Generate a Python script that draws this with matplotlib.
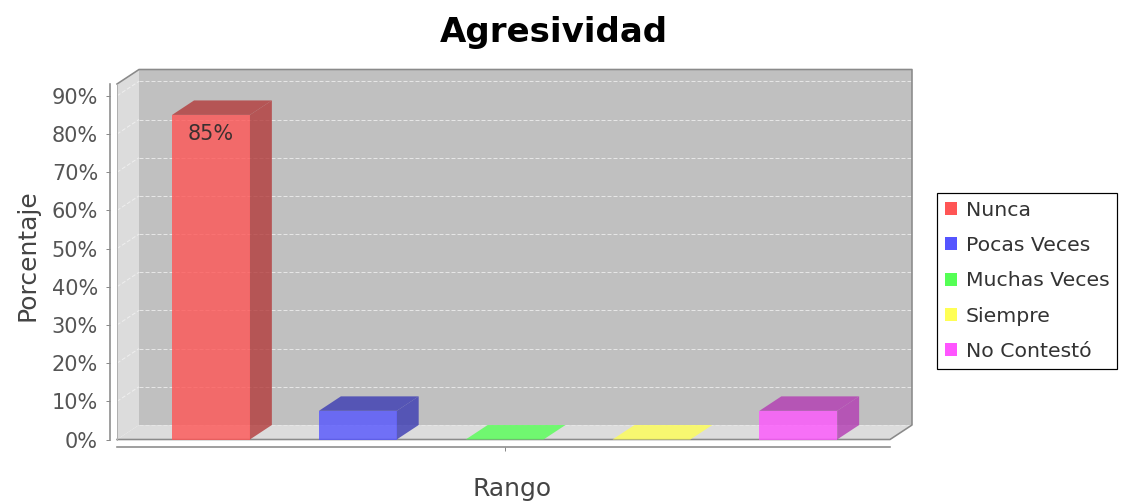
import matplotlib
matplotlib.use("Agg")
import matplotlib.pyplot as plt
from matplotlib.patches import Polygon, Patch
from matplotlib.lines import Line2D
from matplotlib.transforms import IdentityTransform
from matplotlib.colors import to_rgb

# ---------------- data ----------------
title = "Agresividad"
series_names = ["Nunca", "Pocas Veces", "Muchas Veces", "Siempre", "No Contestó"]
values = [85, 7.5, 0, 0, 7.5]
series_colors = ["#FF5555", "#5555FF", "#55FF55", "#FFFF55", "#FF55FF"]
y_ticks = [0, 10, 20, 30, 40, 50, 60, 70, 80, 90]
y_tick_labels = ["0%", "10%", "20%", "30%", "40%", "50%", "60%", "70%", "80%", "90%"]
x_label = "Rango"
y_label = "Porcentaje"
bar_labels = ["85%", "", "", "", ""]

# ---------------- layout ----------------
W, H = 1130, 504
DPI = 100
PX = 72.0 / DPI  # points per pixel

fig = plt.figure(figsize=(W / DPI, H / DPI), dpi=DPI)
fig.patch.set_facecolor("white")

front_left, front_right = 117, 890
front_bottom, front_top = 439.5, 84
ax = fig.add_axes([front_left / W, (H - front_bottom) / H,
                   (front_right - front_left) / W, (front_bottom - front_top) / H])
ax.set_facecolor("none")

n = len(values)
bar_w = 0.53
x0, x1 = -0.64, 4.625
y0, y1 = 0, 93.1
ax.set_xlim(x0, x1)
ax.set_ylim(y0, y1)

DX, DY = 22, 14.5  # 3D depth offset in pixels

def pt(x, y, depth=0.0):
    p = ax.transData.transform((x, y))
    return (p[0] + DX * depth, p[1] + DY * depth)

def poly(points, color, z, alpha=1.0, ec="none"):
    p = Polygon(points, closed=True, facecolor=color, edgecolor=ec, alpha=alpha,
                transform=IdentityTransform(), clip_on=False, zorder=z, lw=0)
    ax.add_artist(p)

def line(points, color, lw, z, dashes=None):
    xs = [p[0] for p in points]
    ys = [p[1] for p in points]
    l = Line2D(xs, ys, color=color, lw=lw, transform=IdentityTransform(),
               clip_on=False, zorder=z)
    if dashes is not None:
        l.set_dashes(dashes)
    ax.add_artist(l)

# walls
poly([pt(x0, y0, 1), pt(x1, y0, 1), pt(x1, y1, 1), pt(x0, y1, 1)], "#C0C0C0", 0.1)
poly([pt(x0, y0, 0), pt(x0, y1, 0), pt(x0, y1, 1), pt(x0, y0, 1)], "#DCDCDC", 0.1)
poly([pt(x0, y0, 0), pt(x1, y0, 0), pt(x1, y0, 1), pt(x0, y0, 1)], "#DCDCDC", 0.1)

# gridlines
for yv in y_ticks:
    line([pt(x0, yv, 1), pt(x1, yv, 1)], "#E6E6E6", 1 * PX, 0.2, dashes=(4, 2))
    if yv > 0:
        line([pt(x0, yv, 0), pt(x0, yv, 1)], "#EEEEEE", 1 * PX, 0.2, dashes=(4, 2))

# outline
line([pt(x0, y1, 0), pt(x0, y1, 1), pt(x1, y1, 1), pt(x1, y0, 1), pt(x1, y0, 0),
      pt(x0, y0, 0)], "#8A8A8A", 1.6 * PX, 0.3)
line([pt(x0, y1, 0), pt(x0, y0, 0)], "#B0B0B0", 1 * PX, 0.3)

# bars
def darker(c):
    r, g, b = to_rgb(c)
    return (r * 0.7, g * 0.7, b * 0.7)

for i, (v, c) in enumerate(zip(values, series_colors)):
    xl, xr = i - bar_w / 2, i + bar_w / 2
    if v == 0:
        poly([pt(xl, 0), pt(xr, 0), pt(xr, 0, 1), pt(xl, 0, 1)], c, 1, alpha=0.8)
        continue
    poly([pt(xr, 0), pt(xr, 0, 1), pt(xr, v, 1), pt(xr, v)], darker(c), 1, alpha=0.8)
    poly([pt(xl, v), pt(xr, v), pt(xr, v, 1), pt(xl, v, 1)], darker(c), 1, alpha=0.8)
    poly([pt(xl, 0), pt(xr, 0), pt(xr, v), pt(xl, v)], c, 1.1, alpha=0.8)
    if bar_labels[i]:
        ax.annotate(bar_labels[i], xy=(i, v), xytext=(0, -19), textcoords="offset pixels",
                    ha="center", va="center", fontsize=15, color="#3A3030", zorder=3)

# axes
for s in ["top", "right"]:
    ax.spines[s].set_visible(False)
for s in ["left", "bottom"]:
    ax.spines[s].set_position(("outward", 7 * PX))
    ax.spines[s].set_color("#8A8A8A")
    ax.spines[s].set_linewidth(1.6 * PX)

ax.set_yticks(y_ticks)
ax.set_yticklabels(y_tick_labels)
ax.set_xticks([(n - 1) / 2])
ax.set_xticklabels([""])
ax.tick_params(axis="both", direction="out", length=4 * PX, width=1 * PX, color="#8A8A8A",
               labelsize=15, labelcolor="#555555", pad=8 * PX)

# texts
fig.text(554 / W, 1 - 42 / H, title, ha="center", va="baseline", fontsize=24.5,
         fontweight="bold", color="black")
fig.text(512 / W, 1 - 496 / H, x_label, ha="center", va="baseline", fontsize=18,
         color="#444444")
fig.text(34 / W, 1 - 255 / H, y_label, ha="center", va="baseline", rotation=90,
         rotation_mode="anchor", fontsize=18, color="#444444")

# legend
handles = [Patch(facecolor=c, edgecolor="none") for c in series_colors]
leg = fig.legend(handles, series_names, loc="upper left",
                 bbox_to_anchor=(937 / W, 1 - 193 / H), bbox_transform=fig.transFigure,
                 borderaxespad=0, frameon=True, fancybox=False, edgecolor="black",
                 framealpha=1, fontsize=14.7, handlelength=0.59, handleheight=0.59,
                 handletextpad=0.43, labelspacing=0.80, borderpad=0.38)
leg.get_frame().set_linewidth(1.2 * PX)
for t in leg.get_texts():
    t.set_color("#333333")

fig.savefig("out.png", dpi=DPI, facecolor="white")
